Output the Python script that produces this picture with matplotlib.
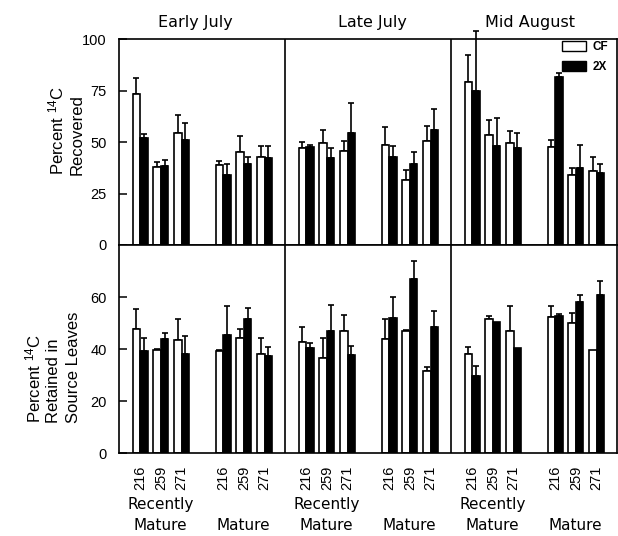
import numpy as np
import matplotlib
matplotlib.use("Agg")
import matplotlib.pyplot as plt
from matplotlib.patches import Patch

plt.rcParams['font.family'] = ['Liberation Sans', 'DejaVu Sans']
plt.rcParams['mathtext.default'] = 'regular'

periods = ["Early July", "Late July", "Mid August"]
leaf_ids = ["216", "259", "271"]
groups = ["Recently\nMature", "Mature"]

# order within each period: RM216, RM259, RM271, M216, M259, M271
rec_cf = [[73.5, 38.0, 54.5, 39.0, 45.0, 43.0],
          [47.0, 49.7, 45.5, 48.5, 31.7, 50.7],
          [79.5, 53.5, 49.5, 47.5, 34.0, 36.2]]
rec_cf_err = [[7.7, 2.5, 8.7, 2.0, 8.0, 5.2],
              [3.3, 6.4, 5.2, 9.0, 4.7, 7.2],
              [12.8, 7.5, 5.8, 3.8, 3.6, 6.5]]
rec_2x = [[52.0, 38.5, 51.0, 34.0, 39.5, 42.5],
          [47.8, 42.5, 54.5, 42.6, 39.4, 55.8],
          [75.0, 48.0, 47.2, 81.5, 37.5, 34.8]]
rec_2x_err = [[2.2, 3.0, 8.2, 5.4, 3.3, 5.5],
              [1.0, 4.7, 14.8, 5.6, 5.9, 10.3],
              [29.0, 14.0, 7.2, 2.0, 11.3, 4.6]]

ret_cf = [[47.6, 39.6, 43.7, 39.4, 44.2, 38.3],
          [42.8, 36.5, 47.0, 44.0, 47.0, 31.7],
          [38.2, 51.4, 47.0, 52.2, 50.1, 39.7]]
ret_cf_err = [[7.7, 0.3, 8.0, 0.3, 3.6, 5.9],
              [5.8, 7.7, 6.2, 7.5, 0.5, 1.6],
              [2.7, 1.2, 9.5, 4.3, 3.6, 0.0]]
ret_2x = [[39.4, 44.0, 38.0, 45.3, 51.4, 37.4],
          [40.4, 46.8, 37.6, 51.9, 67.0, 48.5],
          [29.6, 50.6, 40.3, 52.6, 58.3, 60.7]]
ret_2x_err = [[5.0, 2.3, 6.9, 11.2, 4.4, 3.5],
              [2.0, 10.0, 3.8, 8.1, 7.0, 6.2],
              [3.9, 0.0, 0.0, 1.0, 2.6, 5.5]]

W, H = 618, 536
fig = plt.figure(figsize=(W / 100, H / 100), dpi=100)

def fx(px):
    return px / W

def fy(py):
    return 1 - py / H

left, right = 119.3, 617.3
ax_top = fig.add_axes([fx(left), fy(245), fx(right - left), (245 - 39.4) / H])
ax_bot = fig.add_axes([fx(left), fy(453.3), fx(right - left), (453.3 - 245) / H])

slot = [1, 2, 3, 5, 6, 7]
bw = 0.36
positions = np.array([p * 8 + s for p in range(3) for s in slot], dtype=float)


def draw(ax, cf, cf_err, x2, x2_err):
    cf_v = np.concatenate(cf)
    cf_e = np.concatenate(cf_err)
    x2_v = np.concatenate(x2)
    x2_e = np.concatenate(x2_err)
    xc = positions - bw / 2
    x2p = positions + bw / 2
    ax.bar(xc, cf_v, width=bw, color='white', edgecolor='black', linewidth=1.2, zorder=2)
    ax.bar(x2p, x2_v, width=bw, color='black', edgecolor='black', linewidth=1.2, zorder=2)
    for xs, v, e in ((xc, cf_v, cf_e), (x2p, x2_v, x2_e)):
        m = e > 0
        ax.errorbar(xs[m], v[m], yerr=[np.zeros(m.sum()), e[m]], fmt='none',
                    ecolor='black', elinewidth=1.2, capsize=2.5, capthick=1.2,
                    zorder=1, clip_on=False)
    ax.set_xlim(0, 24)
    for xv in (8, 16):
        ax.axvline(xv, color='black', linewidth=1.2, zorder=3)
    for sp in ax.spines.values():
        sp.set_linewidth(1.2)
    ax.tick_params(axis='y', direction='in', length=6, width=1.1, labelsize=10.5, pad=9)


draw(ax_top, rec_cf, rec_cf_err, rec_2x, rec_2x_err)
draw(ax_bot, ret_cf, ret_cf_err, ret_2x, ret_2x_err)

ax_top.set_ylim(0, 100)
ax_top.set_yticks([0, 25, 50, 75, 100])
ax_top.set_xticks([])

ax_bot.set_ylim(0, 80)
ax_bot.set_yticks([0, 20, 40, 60])
ax_bot.set_xticks(positions)
ax_bot.set_xticklabels(leaf_ids * 6, rotation=90, fontsize=10.5)
ax_bot.tick_params(axis='x', length=0, pad=9)

# group labels under the bottom axes
for p in range(3):
    for gi, gname in enumerate(groups):
        xc = p * 8 + (2 if gi == 0 else 6)
        xpix = left + xc * (right - left) / 24
        if gi == 0:
            fig.text(fx(xpix), fy(505), "Recently", ha='center', va='center', fontsize=11,
                     family=['DejaVu Sans'])
        fig.text(fx(xpix), fy(526), "Mature", ha='center', va='center', fontsize=11,
                 family=['DejaVu Sans'])

# period titles
for name, xp in zip(periods, (195, 372, 530)):
    fig.text(fx(xp), fy(22), name, ha='center', va='center', fontsize=11.5,
             family=['DejaVu Sans'])

# y labels
lab_kw = dict(rotation=90, rotation_mode='anchor', ha='left', va='baseline', fontsize=12)
fig.text(fx(63), fy(175), r'Percent $^{14}$C', **lab_kw)
fig.text(fx(82), fy(175), 'Recovered', **lab_kw)
fig.text(fx(40), fy(423), r'Percent $^{14}$C', **lab_kw)
fig.text(fx(58), fy(423), 'Retained in', **lab_kw)
fig.text(fx(78), fy(423), 'Source Leaves', **lab_kw)

# legend
handles = [Patch(facecolor='white', edgecolor='black', linewidth=1.0, label='CF'),
           Patch(facecolor='black', edgecolor='black', linewidth=1.0, label='2X')]
leg = ax_top.legend(handles=handles, loc='upper left',
                    bbox_to_anchor=(fx(562), fy(41)), bbox_transform=fig.transFigure,
                    frameon=False, borderpad=0, borderaxespad=0, handlelength=2.0,
                    handleheight=0.9, handletextpad=0.6, labelspacing=0.7,
                    prop={'size': 8.5, 'weight': 'bold'})

fig.savefig("out.png", dpi=100)
